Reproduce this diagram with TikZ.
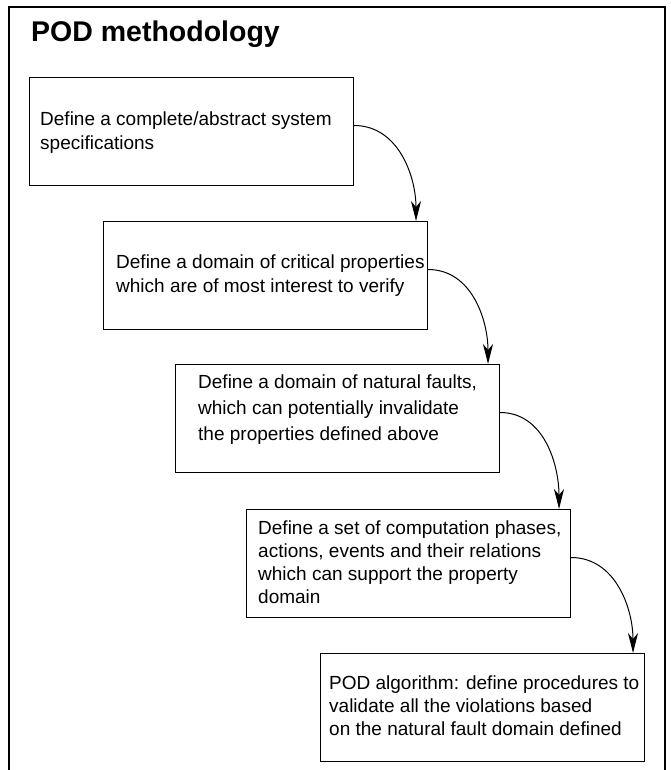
\documentclass[tikz,border=0pt]{standalone}
\usepackage{fontspec}
\setmainfont{Liberation Sans}
\usetikzlibrary{arrows.meta}
\begin{document}
\begin{tikzpicture}[x=1pt,y=-1pt,
  box/.style={draw=black, line width=1pt, minimum width=324pt, minimum height=108pt, inner sep=0pt, anchor=north west},
  txt/.style={anchor=west, align=left, inner sep=0pt, font=\fontsize{19}{24}\selectfont},
  flow/.style={-{Stealth[length=20pt,width=10pt,inset=6pt]}, line width=1pt, out=0, in=90}]
\useasboundingbox (0,0) rectangle (671,770);
\draw[line width=2pt] (9,770) -- (9,7) -- (665,7) -- (665,770);
\node[anchor=base west, font=\bfseries\fontsize{28.5}{34}\selectfont, inner sep=0pt] (title) at (31,42) {POD methodology};
\node[box] (b1) at (29,77) {};
\node[box] (b2) at (103,221) {};
\node[box] (b3) at (175,364) {};
\node[box] (b4) at (246,509) {};
\node[box] (b5) at (320,653) {};
\node[txt] (t1) at ([xshift=11pt,yshift=-1pt]b1.west) {Define a complete/abstract system\\specifications};
\node[txt] (t2) at ([xshift=13pt]b2.west) {Define a domain of critical properties\\which are of most interest to verify};
\node[txt, font=\fontsize{19}{26}\selectfont] (t3) at ([xshift=23pt,yshift=9pt]b3.west) {Define a domain of natural faults,\\which can potentially invalidate\\the properties defined above};
\node[txt, font=\fontsize{19}{23}\selectfont] (t4) at ([xshift=12pt,yshift=1.5pt]b4.west) {Define a set of computation phases,\\actions, events and their relations\\which can support the property\\domain};
\node[txt, font=\fontsize{19}{23}\selectfont] (t5) at ([xshift=9pt,yshift=2pt]b5.west) {POD algorithm: define procedures to\\validate all the violations based\\on the natural fault domain defined};
\draw[flow] ([yshift=6pt]b1.east) to ([xshift=-12pt]b2.north east);
\draw[flow] ([yshift=6pt]b2.east) to ([xshift=-12pt]b3.north east);
\draw[flow] ([yshift=6pt]b3.east) to ([xshift=-12pt]b4.north east);
\draw[flow] ([yshift=6pt]b4.east) to ([xshift=-12pt]b5.north east);
\end{tikzpicture}
\end{document}
